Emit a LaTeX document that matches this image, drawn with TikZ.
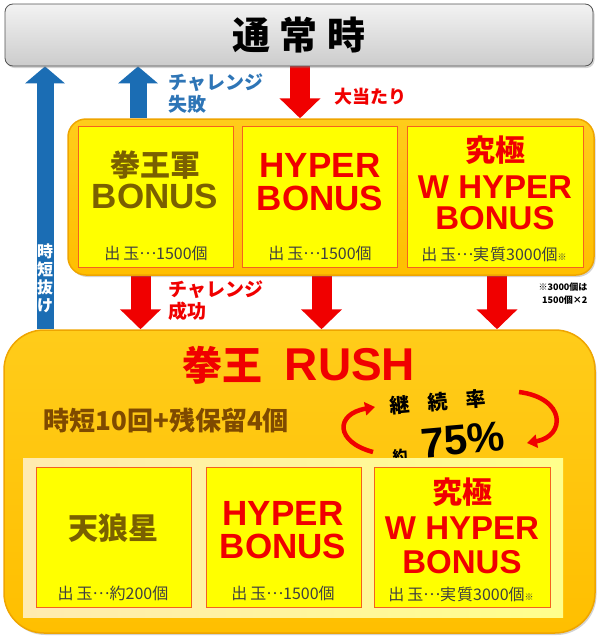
\documentclass[tikz,border=0pt]{standalone}
\usepackage{fontspec}
\setmainfont{Liberation Sans}
\newfontfamily\jp{Noto Sans CJK JP}
\usetikzlibrary{arrows.meta,shadows,backgrounds}

\definecolor{goldfill}{HTML}{FFBF00}
\definecolor{goldtop}{HTML}{FFCC1A}
\definecolor{goldline}{HTML}{EFA500}
\definecolor{bandleft}{HTML}{FFEBB0}
\definecolor{bandright}{HTML}{FFFF8C}
\definecolor{bonusfill}{HTML}{FFFF00}
\definecolor{bonusline}{HTML}{F5621E}
\definecolor{olive}{HTML}{7A6000}
\definecolor{rushbrown}{HTML}{7F4A00}
\definecolor{arrowred}{HTML}{F00000}
\definecolor{arrowblue}{HTML}{1B6DB4}
\definecolor{labelblue}{HTML}{2E75B6}
\definecolor{paygray}{HTML}{404040}

\newcommand{\middots}{\raisebox{0.3em}{…}}

\tikzset{
  softshadow/.style={drop shadow={shadow xshift=1.5pt, shadow yshift=-2pt, opacity=0.35}},
  normalbox/.style={draw=gray!65!black, line width=0.8pt, rounded corners=8pt,
    top color=gray!10, bottom color=gray!40, softshadow,
    font=\jp\bfseries\fontsize{38}{40}\selectfont},
  frame/.style={draw=goldline, line width=1.5pt, top color=goldtop, bottom color=goldfill, softshadow},
  band/.style={left color=bandleft, right color=bandright},
  bonusbox/.style={draw=bonusline, line width=0.8pt, fill=bonusfill},
  jptitle/.style={font=\jp\bfseries\fontsize{30}{32}\selectfont},
  entitle/.style={font=\bfseries\fontsize{35}{36}\selectfont},
  entitlesmall/.style={font=\bfseries\fontsize{33}{34}\selectfont},
  paytext/.style={text=paygray, font=\jp\fontsize{16}{17}\selectfont},
  notemark/.style={font=\jp\bfseries\fontsize{9}{13}\selectfont},
  ratetext/.style={inner sep=0pt, rotate=5},
  redarrow/.style={draw=arrowred, line width=20pt, -{Triangle[width=40pt,length=20pt]}},
  bluearrow/.style={draw=arrowblue, line width=17pt, -{Triangle[width=39pt,length=17pt]}},
  looparrow/.style={draw=arrowred, line width=4.5pt, -{Triangle[width=13pt,length=10pt]}}
}

\begin{document}
\begin{tikzpicture}[x=1pt, y=-1pt]
\useasboundingbox (0,0) rectangle (599,640);

% Normal mode
\node[normalbox, minimum width=588pt, minimum height=62pt] (normal) at (299,35)
  {通\hspace{10pt}常\hspace{10pt}時};

% Bonus frame
\node[frame, rounded corners=18pt, minimum width=526pt, minimum height=156pt] (upper) at (331,197) {};
\node[bonusbox, minimum width=155pt, minimum height=141pt] (kenbonus) at (155.5,196.5) {};
\node[bonusbox, minimum width=155pt, minimum height=141pt] (hyper) at (319.5,196.5) {};
\node[bonusbox, minimum width=176pt, minimum height=141pt] (whyper) at (495,196.5) {};

\node[jptitle, text=olive] (kentitle) at (155,165) {拳王軍};
\node[entitle, text=olive] (kenname) at (155,196) {BONUS};
\node[paytext] (kenpay) at (156,253) {出\hspace{3pt}玉\middots{}1500個};

\node[entitle, text=arrowred] (hypertitle) at (320,165) {HYPER};
\node[entitle, text=arrowred] (hypername) at (320,198) {BONUS};
\node[paytext] (hyperpay) at (320,253) {出\hspace{3pt}玉\middots{}1500個};

\node[jptitle, text=arrowred] (whypertop) at (495,150) {究極};
\node[entitlesmall, text=arrowred] (whypertitle) at (495,187) {W HYPER};
\node[entitlesmall, text=arrowred] (whypername) at (495,218) {BONUS};
\node[paytext] (whyperpay) at (494,254) {出\hspace{3pt}玉\middots{}実\hspace{1pt}質3000個{\fontsize{9}{10}\selectfont ※}};

% RUSH frame
\node[frame, rounded corners=40pt, minimum width=591pt, minimum height=303pt] (rush) at (299.5,481.5) {};
\node[text=arrowred, font=\bfseries\fontsize{46}{48}\selectfont] (rushtitle) at (299,365)
  {{\jp\fontsize{40}{42}\selectfont 拳王}\hspace{22pt}RUSH};
\node[text=rushbrown, font=\jp\bfseries\fontsize{26}{28}\selectfont, anchor=west] (rushspec) at (40,420)
  {時短10回+残保留4個};
\node[ratetext, font=\jp\bfseries\fontsize{20}{22}\selectfont] (rate) at (438,402)
  {継\hspace{18pt}続\hspace{18pt}率};
\node[ratetext, font=\jp\bfseries\fontsize{15}{16}\selectfont] (approx) at (400,456) {約};
\node[ratetext, font=\bfseries\fontsize{42}{44}\selectfont] (ratevalue) at (463,440) {75\%};

\node[band, minimum width=540pt, minimum height=159pt] (rushband) at (293,537.5) {};
\node[bonusbox, minimum width=155pt, minimum height=140pt] (tenro) at (113.5,537) {};
\node[bonusbox, minimum width=155pt, minimum height=140pt] (rushhyper) at (283.5,537) {};
\node[bonusbox, minimum width=176pt, minimum height=140pt] (rushwhyper) at (462,537) {};

\node[jptitle, text=olive] (tenrotitle) at (113,528) {天狼星};
\node[paytext] (tenropay) at (113,593) {出\hspace{3pt}玉\middots{}約200個};

\node[entitle, text=arrowred] (rushhypertitle) at (283,513) {HYPER};
\node[entitle, text=arrowred] (rushhypername) at (283,546) {BONUS};
\node[paytext] (rushhyperpay) at (283,593) {出\hspace{3pt}玉\middots{}1500個};

\node[jptitle, text=arrowred] (rushwhypertop) at (462,492) {究極};
\node[entitlesmall, text=arrowred] (rushwhypertitle) at (462,528) {W HYPER};
\node[entitlesmall, text=arrowred] (rushwhypername) at (462,562) {BONUS};
\node[paytext] (rushwhyperpay) at (461,594) {出\hspace{3pt}玉\middots{}実\hspace{1pt}質3000個{\fontsize{9}{10}\selectfont ※}};

% Flow labels
\node[text=labelblue, font=\jp\bfseries\fontsize{19}{22}\selectfont, align=left, anchor=west] (failed) at (165,94)
  {チャレンジ\\失敗};
\node[text=arrowred, font=\jp\bfseries\fontsize{18}{20}\selectfont, anchor=west] (jackpot) at (331,97) {大当たり};
\node[text=arrowred, font=\jp\bfseries\fontsize{19}{22}\selectfont, align=left, anchor=west] (success) at (165,301)
  {チャレンジ\\成功};
\node[notemark, align=right, anchor=north east] (note) at (591,279)
  {※3000個は\\1500個×2};

% Connectors
\coordinate (lane1) at (45,0);
\coordinate (lane2) at (138,0);
\coordinate (lane3) at (300,0);
\begin{scope}[on background layer]
  \draw[bluearrow] (rush.north -| lane1) -- (normal.south -| lane1);
  \draw[bluearrow] (upper.north -| lane2) -- (normal.south -| lane2);
  \draw[redarrow] (normal.south -| lane3) -- (upper.north -| lane3);
  \draw[redarrow] ([xshift=-15pt]kenbonus.south) -- ([xshift=-15pt]kenbonus.south |- rush.north);
  \draw[redarrow] ([xshift=2pt]hyper.south) -- ([xshift=2pt]hyper.south |- rush.north);
  \draw[redarrow] ([xshift=2pt]whyper.south) -- ([xshift=2pt]whyper.south |- rush.north);
\end{scope}
\node[text=white, font=\jp\bfseries\fontsize{16}{18}\selectfont, align=center] (timeout) at (45,278)
  {時\\短\\抜\\け};

% Continuation loop
\coordinate (loopa) at (373,452);
\coordinate (loopb) at (375,407);
\coordinate (loopc) at (519,392);
\coordinate (loopd) at (527,443);
\draw[looparrow] (loopa) .. controls (335,442) and (335,414) .. (loopb);
\draw[looparrow] (loopc) .. controls (566,398) and (566,436) .. (loopd);
\end{tikzpicture}
\end{document}
